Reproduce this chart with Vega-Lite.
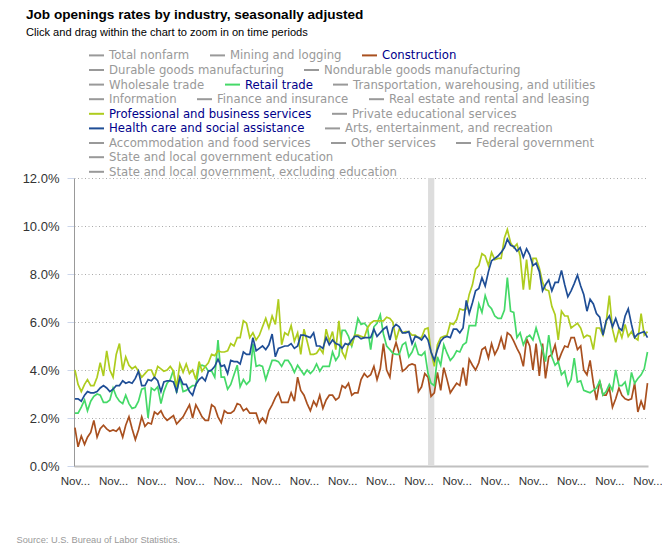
{"$schema":"https://vega.github.io/schema/vega-lite/v6.json","width":574,"height":288,"autosize":{"type":"none"},"padding":{"left":74,"top":178,"right":14,"bottom":83},"background":"white","config":{"font":"Liberation Sans","view":{"stroke":null},"legend":{"orient":"none","direction":"horizontal","legendX":14,"title":null,"symbolType":"stroke","symbolSize":225,"symbolStrokeWidth":2,"labelFont":"DejaVu Sans","labelFontSize":11.7,"labelOffset":4,"labelLimit":400,"columnPadding":16,"labelColor":"#999999"},"axisX":{"labelOverlap":false}},"title":{"text":"Job openings rates by industry, seasonally adjusted","subtitle":"Click and drag within the chart to zoom in on time periods","anchor":"start","frame":"group","dx":-48,"offset":8,"fontSize":13.6,"fontWeight":"bold","color":"#000","subtitleFontSize":11.1,"subtitleColor":"#000","subtitlePadding":6},"datasets":{"names":[{"code":"c","series":"Construction"},{"code":"r","series":"Retail trade"},{"code":"p","series":"Professional and business services"},{"code":"h","series":"Health care and social assistance"}],"recession":[{"start":"2020-02-01","end":"2020-04-01"}],"rates":[
{"d":"2010-11-01","c":1.6,"r":2.2,"p":4.0,"h":2.8},{"d":"2010-12-01","c":0.8,"r":2.2,"p":3.4,"h":2.8},{"d":"2011-01-01","c":1.25,"r":2.45,"p":3.1,"h":2.7},{"d":"2011-02-01","c":0.9,"r":2.75,"p":3.4,"h":2.95},{"d":"2011-03-01","c":1.2,"r":2.3,"p":3.6,"h":3.1},{"d":"2011-04-01","c":1.4,"r":2.7,"p":3.35,"h":3.05},{"d":"2011-05-01","c":1.9,"r":2.9,"p":3.35,"h":3.05},{"d":"2011-06-01","c":1.2,"r":3.0,"p":3.7,"h":3.1},{"d":"2011-07-01","c":1.55,"r":2.95,"p":4.3,"h":3.25},{"d":"2011-08-01","c":1.7,"r":2.65,"p":3.75,"h":3.35},{"d":"2011-09-01","c":1.55,"r":2.65,"p":4.8,"h":3.25},{"d":"2011-10-01","c":1.45,"r":2.75,"p":4.0,"h":3.1},{"d":"2011-11-01","c":1.5,"r":3.25,"p":3.7,"h":3.2},{"d":"2011-12-01","c":1.45,"r":2.9,"p":4.65,"h":3.35},
{"d":"2012-01-01","c":1.6,"r":2.7,"p":5.1,"h":3.35},{"d":"2012-02-01","c":1.2,"r":2.6,"p":4.0,"h":3.55},{"d":"2012-03-01","c":1.7,"r":2.95,"p":4.55,"h":3.45},{"d":"2012-04-01","c":2.05,"r":2.6,"p":4.2,"h":3.5},{"d":"2012-05-01","c":1.55,"r":2.4,"p":4.05,"h":3.45},{"d":"2012-06-01","c":1.1,"r":2.45,"p":4.15,"h":3.65},{"d":"2012-07-01","c":1.5,"r":2.7,"p":3.95,"h":3.95},{"d":"2012-08-01","c":2.05,"r":3.2,"p":3.7,"h":3.35},{"d":"2012-09-01","c":1.65,"r":3.25,"p":3.85,"h":3.35},{"d":"2012-10-01","c":1.8,"r":2.0,"p":4.0,"h":3.6},{"d":"2012-11-01","c":1.75,"r":3.25,"p":4.0,"h":3.55},{"d":"2012-12-01","c":2.25,"r":3.15,"p":3.7,"h":3.7},
{"d":"2013-01-01","c":2.15,"r":3.3,"p":4.15,"h":3.55},{"d":"2013-02-01","c":2.3,"r":2.6,"p":4.05,"h":3.1},{"d":"2013-03-01","c":2.05,"r":3.1,"p":3.95,"h":3.5},{"d":"2013-04-01","c":1.9,"r":3.45,"p":4.0,"h":3.55},{"d":"2013-05-01","c":2.0,"r":3.6,"p":4.15,"h":3.55},{"d":"2013-06-01","c":2.1,"r":4.0,"p":3.95,"h":3.5},{"d":"2013-07-01","c":1.75,"r":3.05,"p":3.3,"h":3.1},{"d":"2013-08-01","c":1.9,"r":3.7,"p":4.25,"h":3.7},{"d":"2013-09-01","c":2.05,"r":3.1,"p":3.9,"h":3.4},{"d":"2013-10-01","c":2.3,"r":3.15,"p":4.25,"h":3.4},{"d":"2013-11-01","c":2.55,"r":3.25,"p":3.85,"h":3.1},{"d":"2013-12-01","c":2.0,"r":3.35,"p":4.0,"h":2.95},
{"d":"2014-01-01","c":2.55,"r":3.35,"p":3.6,"h":3.4},{"d":"2014-02-01","c":2.3,"r":4.15,"p":4.35,"h":3.6},{"d":"2014-03-01","c":2.05,"r":4.2,"p":3.95,"h":3.7},{"d":"2014-04-01","c":1.9,"r":4.15,"p":4.15,"h":3.55},{"d":"2014-05-01","c":1.9,"r":3.95,"p":4.3,"h":3.95},{"d":"2014-06-01","c":2.55,"r":3.95,"p":4.65,"h":4.0},{"d":"2014-07-01","c":2.45,"r":3.7,"p":4.6,"h":4.15},{"d":"2014-08-01","c":2.05,"r":5.25,"p":4.8,"h":4.45},{"d":"2014-09-01","c":1.8,"r":3.7,"p":4.75,"h":4.15},{"d":"2014-10-01","c":2.3,"r":3.7,"p":4.75,"h":4.2},{"d":"2014-11-01","c":2.2,"r":3.2,"p":4.8,"h":3.85},{"d":"2014-12-01","c":2.2,"r":3.4,"p":5.1,"h":4.4},
{"d":"2015-01-01","c":2.3,"r":3.8,"p":5.0,"h":4.35},{"d":"2015-02-01","c":2.6,"r":4.2,"p":5.35,"h":4.35},{"d":"2015-03-01","c":2.55,"r":3.3,"p":5.35,"h":4.25},{"d":"2015-04-01","c":2.3,"r":3.6,"p":6.05,"h":4.75},{"d":"2015-05-01","c":2.4,"r":3.4,"p":5.95,"h":4.65},{"d":"2015-06-01","c":2.2,"r":3.55,"p":5.35,"h":4.65},{"d":"2015-07-01","c":2.2,"r":5.1,"p":5.55,"h":5.35},{"d":"2015-08-01","c":2.2,"r":4.15,"p":5.25,"h":4.8},{"d":"2015-09-01","c":1.8,"r":4.2,"p":5.45,"h":4.9},{"d":"2015-10-01","c":2.0,"r":4.15,"p":5.8,"h":5.0},{"d":"2015-11-01","c":1.8,"r":3.6,"p":6.15,"h":4.85},{"d":"2015-12-01","c":2.3,"r":4.0,"p":5.75,"h":5.05},
{"d":"2016-01-01","c":2.55,"r":4.4,"p":6.25,"h":5.5},{"d":"2016-02-01","c":2.85,"r":4.4,"p":5.9,"h":4.55},{"d":"2016-03-01","c":3.05,"r":4.35,"p":6.95,"h":4.9},{"d":"2016-04-01","c":2.65,"r":4.15,"p":5.05,"h":4.95},{"d":"2016-05-01","c":2.65,"r":4.4,"p":5.55,"h":5.0},{"d":"2016-06-01","c":2.65,"r":4.4,"p":5.45,"h":5.0},{"d":"2016-07-01","c":3.05,"r":4.2,"p":5.85,"h":5.1},{"d":"2016-08-01","c":2.7,"r":3.9,"p":5.2,"h":4.9},{"d":"2016-09-01","c":3.7,"r":4.2,"p":5.55,"h":5.0},{"d":"2016-10-01","c":3.15,"r":4.0,"p":4.65,"h":5.45},{"d":"2016-11-01","c":2.95,"r":3.8,"p":5.7,"h":5.45},{"d":"2016-12-01","c":2.6,"r":4.0,"p":5.2,"h":5.4},
{"d":"2017-01-01","c":2.3,"r":3.85,"p":4.65,"h":5.35},{"d":"2017-02-01","c":2.7,"r":4.0,"p":4.65,"h":5.55},{"d":"2017-03-01","c":2.5,"r":4.25,"p":4.7,"h":5.0},{"d":"2017-04-01","c":2.95,"r":3.95,"p":4.9,"h":5.0},{"d":"2017-05-01","c":2.4,"r":4.15,"p":4.7,"h":4.9},{"d":"2017-06-01","c":2.75,"r":4.15,"p":5.7,"h":5.35},{"d":"2017-07-01","c":2.95,"r":4.15,"p":5.2,"h":5.05},{"d":"2017-08-01","c":2.95,"r":4.75,"p":5.6,"h":5.25},{"d":"2017-09-01","c":2.75,"r":4.4,"p":4.85,"h":5.1},{"d":"2017-10-01","c":2.85,"r":4.6,"p":6.05,"h":5.05},{"d":"2017-11-01","c":3.35,"r":5.65,"p":4.75,"h":4.9},{"d":"2017-12-01","c":3.25,"r":5.65,"p":4.5,"h":5.1},
{"d":"2018-01-01","c":3.45,"r":5.4,"p":5.1,"h":5.05},{"d":"2018-02-01","c":2.95,"r":5.0,"p":5.05,"h":5.25},{"d":"2018-03-01","c":3.05,"r":5.45,"p":5.45,"h":5.4},{"d":"2018-04-01","c":3.05,"r":6.15,"p":5.45,"h":5.4},{"d":"2018-05-01","c":3.6,"r":5.9,"p":5.4,"h":5.3},{"d":"2018-06-01","c":3.85,"r":5.95,"p":5.35,"h":5.35},{"d":"2018-07-01","c":3.7,"r":5.8,"p":5.75,"h":5.35},{"d":"2018-08-01","c":3.8,"r":4.85,"p":5.95,"h":5.35},{"d":"2018-09-01","c":4.15,"r":5.8,"p":6.05,"h":5.7},{"d":"2018-10-01","c":3.6,"r":5.95,"p":6.05,"h":5.4},{"d":"2018-11-01","c":4.05,"r":6.3,"p":6.05,"h":5.55},{"d":"2018-12-01","c":5.1,"r":5.5,"p":6.05,"h":5.7},
{"d":"2019-01-01","c":4.0,"r":5.0,"p":6.2,"h":5.8},{"d":"2019-02-01","c":3.7,"r":4.85,"p":6.15,"h":5.25},{"d":"2019-03-01","c":4.7,"r":4.7,"p":6.0,"h":5.75},{"d":"2019-04-01","c":5.15,"r":4.65,"p":5.25,"h":5.9},{"d":"2019-05-01","c":4.7,"r":4.65,"p":5.7,"h":5.8},{"d":"2019-06-01","c":3.95,"r":5.05,"p":5.55,"h":5.55},{"d":"2019-07-01","c":4.05,"r":5.15,"p":5.6,"h":5.55},{"d":"2019-08-01","c":4.2,"r":4.55,"p":5.6,"h":5.6},{"d":"2019-09-01","c":4.25,"r":4.75,"p":5.45,"h":5.1},{"d":"2019-10-01","c":4.2,"r":5.1,"p":5.45,"h":5.4},{"d":"2019-11-01","c":3.1,"r":4.65,"p":5.35,"h":5.35},{"d":"2019-12-01","c":3.3,"r":4.6,"p":5.35,"h":5.25},
{"d":"2020-01-01","c":3.85,"r":4.75,"p":5.7,"h":5.45},{"d":"2020-02-01","c":3.7,"r":3.85,"p":5.75,"h":5.25},{"d":"2020-03-01","c":2.9,"r":3.45,"p":4.75,"h":4.75},{"d":"2020-04-01","c":3.05,"r":3.35,"p":4.15,"h":4.4},{"d":"2020-05-01","c":3.9,"r":4.55,"p":5.05,"h":4.85},{"d":"2020-06-01","c":3.15,"r":4.2,"p":5.35,"h":5.2},{"d":"2020-07-01","c":4.1,"r":5.05,"p":5.4,"h":5.35},{"d":"2020-08-01","c":3.6,"r":4.7,"p":5.45,"h":5.4},{"d":"2020-09-01","c":3.05,"r":4.4,"p":5.95,"h":5.35},{"d":"2020-10-01","c":3.25,"r":4.55,"p":5.9,"h":5.7},{"d":"2020-11-01","c":3.45,"r":4.8,"p":6.1,"h":5.7},{"d":"2020-12-01","c":3.35,"r":4.75,"p":6.55,"h":5.55},
{"d":"2021-01-01","c":4.1,"r":5.05,"p":6.5,"h":5.75},{"d":"2021-02-01","c":3.35,"r":5.15,"p":6.55,"h":6.9},{"d":"2021-03-01","c":4.45,"r":5.85,"p":7.15,"h":6.35},{"d":"2021-04-01","c":4.2,"r":5.85,"p":7.55,"h":6.8},{"d":"2021-05-01","c":4.0,"r":5.85,"p":8.2,"h":7.3},{"d":"2021-06-01","c":4.3,"r":6.75,"p":8.35,"h":7.4},{"d":"2021-07-01","c":4.85,"r":6.4,"p":8.85,"h":7.85},{"d":"2021-08-01","c":4.95,"r":7.1,"p":8.75,"h":7.5},{"d":"2021-09-01","c":4.5,"r":6.7,"p":8.35,"h":8.1},{"d":"2021-10-01","c":5.1,"r":6.55,"p":8.9,"h":8.55},{"d":"2021-11-01","c":4.65,"r":6.25,"p":8.6,"h":8.65},{"d":"2021-12-01","c":4.9,"r":6.15,"p":8.65,"h":8.75},
{"d":"2022-01-01","c":5.35,"r":6.15,"p":8.65,"h":8.9},{"d":"2022-02-01","c":4.85,"r":6.5,"p":9.5,"h":9.1},{"d":"2022-03-01","c":5.55,"r":7.85,"p":9.85,"h":9.45},{"d":"2022-04-01","c":5.45,"r":6.45,"p":9.3,"h":9.2},{"d":"2022-05-01","c":5.2,"r":6.4,"p":9.1,"h":9.15},{"d":"2022-06-01","c":4.9,"r":5.35,"p":9.25,"h":8.95},{"d":"2022-07-01","c":4.65,"r":5.55,"p":8.75,"h":9.1},{"d":"2022-08-01","c":4.15,"r":5.05,"p":7.35,"h":8.7},{"d":"2022-09-01","c":5.3,"r":5.35,"p":8.6,"h":9.05},{"d":"2022-10-01","c":5.0,"r":5.45,"p":7.35,"h":8.8},{"d":"2022-11-01","c":4.0,"r":5.25,"p":8.65,"h":8.35},{"d":"2022-12-01","c":5.1,"r":5.75,"p":8.65,"h":8.45},
{"d":"2023-01-01","c":3.75,"r":5.3,"p":8.25,"h":8.1},{"d":"2023-02-01","c":5.1,"r":4.85,"p":7.65,"h":7.3},{"d":"2023-03-01","c":3.65,"r":4.35,"p":7.35,"h":7.55},{"d":"2023-04-01","c":4.55,"r":5.45,"p":7.3,"h":7.75},{"d":"2023-05-01","c":4.65,"r":4.55,"p":6.65,"h":7.3},{"d":"2023-06-01","c":5.05,"r":4.2,"p":6.3,"h":7.65},{"d":"2023-07-01","c":4.35,"r":4.35,"p":5.25,"h":7.65},{"d":"2023-08-01","c":4.7,"r":3.8,"p":6.45,"h":8.15},{"d":"2023-09-01","c":5.0,"r":3.95,"p":6.25,"h":7.55},{"d":"2023-10-01","c":4.95,"r":3.35,"p":6.25,"h":7.05},{"d":"2023-11-01","c":5.35,"r":3.6,"p":5.75,"h":7.3},{"d":"2023-12-01","c":5.35,"r":4.5,"p":5.85,"h":7.6},
{"d":"2024-01-01","c":4.85,"r":3.5,"p":5.95,"h":7.95},{"d":"2024-02-01","c":5.0,"r":3.55,"p":5.75,"h":7.5},{"d":"2024-03-01","c":4.0,"r":3.15,"p":5.35,"h":7.15},{"d":"2024-04-01","c":3.8,"r":3.1,"p":5.45,"h":6.45},{"d":"2024-05-01","c":4.4,"r":3.05,"p":5.4,"h":6.95},{"d":"2024-06-01","c":3.45,"r":3.15,"p":4.85,"h":6.75},{"d":"2024-07-01","c":2.75,"r":3.25,"p":5.75,"h":6.35},{"d":"2024-08-01","c":3.55,"r":3.55,"p":5.75,"h":6.2},{"d":"2024-09-01","c":2.95,"r":2.95,"p":5.45,"h":5.45},{"d":"2024-10-01","c":2.95,"r":3.1,"p":5.95,"h":6.05},{"d":"2024-11-01","c":3.25,"r":3.4,"p":7.1,"h":6.25},{"d":"2024-12-01","c":2.45,"r":3.15,"p":5.7,"h":5.8},
{"d":"2025-01-01","c":2.8,"r":4.0,"p":5.15,"h":6.15},{"d":"2025-02-01","c":3.25,"r":3.35,"p":5.7,"h":5.75},{"d":"2025-03-01","c":2.95,"r":3.35,"p":5.35,"h":5.65},{"d":"2025-04-01","c":2.8,"r":3.5,"p":5.9,"h":6.25},{"d":"2025-05-01","c":2.75,"r":2.95,"p":5.4,"h":6.55},{"d":"2025-06-01","c":2.8,"r":3.9,"p":5.6,"h":5.9},{"d":"2025-07-01","c":3.45,"r":3.45,"p":5.35,"h":5.35},{"d":"2025-08-01","c":2.25,"r":3.65,"p":5.25,"h":5.5},{"d":"2025-09-01","c":2.7,"r":3.8,"p":6.35,"h":5.55},{"d":"2025-10-01","c":2.35,"r":4.05,"p":5.45,"h":5.6},{"d":"2025-11-01","c":3.45,"r":4.75,"p":5.6,"h":5.35}
]},"layer":[{"data":{"name":"recession"},"mark":{"type":"rect","color":"#dddddd"},"encoding":{"x":{"field":"start","type":"temporal","axis":{"labelOverlap":false,"tickCount":30}},"x2":{"field":"end"}}},{"data":{"name":"rates"},"transform":[{"fold":["c","r","p","h"],"as":["code","rate"]},{"lookup":"code","from":{"data":{"name":"names"},"key":"code","fields":["series"]}}],"encoding":{"x":{"field":"d","type":"temporal","scale":{"domain":[{"year":2010,"month":10,"date":23},{"year":2025,"month":11,"date":6}]},"axis":{"tickCount":30,"values":[{"year":2010,"month":11,"date":1},{"year":2011,"month":11,"date":1},{"year":2012,"month":11,"date":1},{"year":2013,"month":11,"date":1},{"year":2014,"month":11,"date":1},{"year":2015,"month":11,"date":1},{"year":2016,"month":11,"date":1},{"year":2017,"month":11,"date":1},{"year":2018,"month":11,"date":1},{"year":2019,"month":11,"date":1},{"year":2020,"month":11,"date":1},{"year":2021,"month":11,"date":1},{"year":2022,"month":11,"date":1},{"year":2023,"month":11,"date":1},{"year":2024,"month":11,"date":1},{"year":2025,"month":11,"date":1}],"labelExpr":"'Nov...'","labelOverlap":false,"labelFlush":false,"labelFontSize":11.6,"labelColor":"#333333","labelPadding":9,"ticks":false,"grid":false,"domainColor":"#c0c0c0","domainWidth":2,"title":"Source: U.S. Bureau of Labor Statistics.","titleAnchor":"start","titleX":-58,"titleY":69.5,"titleFontSize":9.25,"titleFontWeight":"normal","titleColor":"#999999"}},"y":{"field":"rate","type":"quantitative","scale":{"domain":[0,12]},"axis":{"values":[0,2,4,6,8,10,12],"labelExpr":"format(datum.value,'.1f')+'%'","labelFontSize":13,"labelColor":"#333333","labelPadding":8,"tickColor":"#ccd6eb","tickSize":7,"domainColor":"#999999","domainWidth":1,"grid":true,"gridColor":"#aaaaaa","gridDash":[1,2.5],"title":null}}},"resolve":{"scale":{"color":"independent"}},"layer":[
{"transform":[{"filter":{"field":"series","oneOf":["Total nonfarm","Mining and logging","Construction"]}}],"mark":{"type":"line","strokeWidth":1.7},"encoding":{"color":{"field":"series","type":"nominal","sort":null,"scale":{"domain":["Total nonfarm","Mining and logging","Construction"],"range":["#999999","#999999","#a9501f"]},"legend":{"legendX":14,"legendY":-131.5,"orient":"none","labelColor":{"expr":"datum.label==='Construction'?'#00008b':'#999999'"}}}}},
{"transform":[{"filter":{"field":"series","oneOf":["Durable goods manufacturing","Nondurable goods manufacturing"]}}],"mark":{"type":"line","strokeWidth":1.7},"encoding":{"color":{"field":"series","type":"nominal","sort":null,"scale":{"domain":["Durable goods manufacturing","Nondurable goods manufacturing"],"range":["#999999","#999999"]},"legend":{"legendX":14,"legendY":-116.9,"orient":"none"}}}},
{"transform":[{"filter":{"field":"series","oneOf":["Wholesale trade","Retail trade","Transportation, warehousing, and utilities"]}}],"mark":{"type":"line","strokeWidth":1.7},"encoding":{"color":{"field":"series","type":"nominal","sort":null,"scale":{"domain":["Wholesale trade","Retail trade","Transportation, warehousing, and utilities"],"range":["#999999","#45d968","#999999"]},"legend":{"legendX":14,"legendY":-102.3,"orient":"none","labelColor":{"expr":"datum.label==='Retail trade'?'#00008b':'#999999'"}}}}},
{"transform":[{"filter":{"field":"series","oneOf":["Information","Finance and insurance","Real estate and rental and leasing"]}}],"mark":{"type":"line","strokeWidth":1.7},"encoding":{"color":{"field":"series","type":"nominal","sort":null,"scale":{"domain":["Information","Finance and insurance","Real estate and rental and leasing"],"range":["#999999","#999999","#999999"]},"legend":{"legendX":14,"legendY":-87.7,"orient":"none"}}}},
{"transform":[{"filter":{"field":"series","oneOf":["Professional and business services","Private educational services"]}}],"mark":{"type":"line","strokeWidth":1.7},"encoding":{"color":{"field":"series","type":"nominal","sort":null,"scale":{"domain":["Professional and business services","Private educational services"],"range":["#aecc1e","#999999"]},"legend":{"legendX":14,"legendY":-73.1,"orient":"none","labelColor":{"expr":"datum.label==='Professional and business services'?'#00008b':'#999999'"}}}}},
{"transform":[{"filter":{"field":"series","oneOf":["Health care and social assistance","Arts, entertainment, and recreation"]}}],"mark":{"type":"line","strokeWidth":1.7},"encoding":{"color":{"field":"series","type":"nominal","sort":null,"scale":{"domain":["Health care and social assistance","Arts, entertainment, and recreation"],"range":["#1f4e96","#999999"]},"legend":{"legendX":14,"legendY":-58.5,"orient":"none","labelColor":{"expr":"datum.label==='Health care and social assistance'?'#00008b':'#999999'"}}}}},
{"transform":[{"filter":{"field":"series","oneOf":["Accommodation and food services","Other services","Federal government"]}}],"mark":{"type":"line","strokeWidth":1.7},"encoding":{"color":{"field":"series","type":"nominal","sort":null,"scale":{"domain":["Accommodation and food services","Other services","Federal government"],"range":["#999999","#999999","#999999"]},"legend":{"legendX":14,"legendY":-43.9,"orient":"none"}}}},
{"transform":[{"filter":{"field":"series","oneOf":["State and local government education"]}}],"mark":{"type":"line","strokeWidth":1.7},"encoding":{"color":{"field":"series","type":"nominal","sort":null,"scale":{"domain":["State and local government education"],"range":["#999999"]},"legend":{"legendX":14,"legendY":-29.3,"orient":"none"}}}},
{"transform":[{"filter":{"field":"series","oneOf":["State and local government, excluding education"]}}],"mark":{"type":"line","strokeWidth":1.7},"encoding":{"color":{"field":"series","type":"nominal","sort":null,"scale":{"domain":["State and local government, excluding education"],"range":["#999999"]},"legend":{"legendX":14,"legendY":-14.7,"orient":"none"}}}}
]}]}
